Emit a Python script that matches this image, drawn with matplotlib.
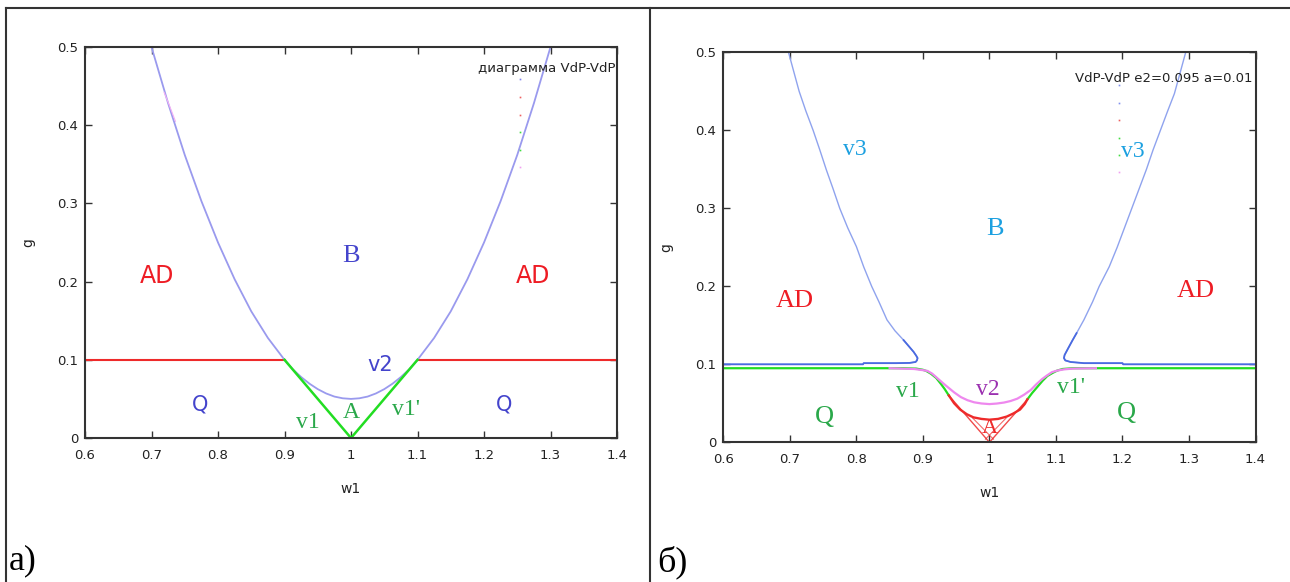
import matplotlib
matplotlib.use('Agg')
import matplotlib.pyplot as plt
from matplotlib.lines import Line2D

# --- data ---
xticks = [0.6, 0.7, 0.8, 0.9, 1.0, 1.1, 1.2, 1.3, 1.4]
xticklabels = ['0.6', '0.7', '0.8', '0.9', '1', '1.1', '1.2', '1.3', '1.4']
yticks = [0, 0.1, 0.2, 0.3, 0.4, 0.5]
yticklabels = ['0', '0.1', '0.2', '0.3', '0.4', '0.5']

# panel a) - B boundary (parabola)
w_B_a = [0.70, 0.725, 0.75, 0.775, 0.80, 0.825, 0.85, 0.875, 0.90, 0.9125, 0.925, 0.9375, 0.95,
         0.9625, 0.975, 0.9875, 1.00, 1.0125, 1.025, 1.0375, 1.05, 1.0625, 1.075, 1.0875, 1.10,
         1.125, 1.15, 1.175, 1.20, 1.225, 1.25, 1.275, 1.30]
g_B_a = [0.50, 0.428, 0.362, 0.303, 0.250, 0.203, 0.162, 0.128, 0.100, 0.0878, 0.078, 0.0695, 0.0625,
         0.057, 0.053, 0.0508, 0.050, 0.0508, 0.053, 0.057, 0.0625, 0.0695, 0.078, 0.0878, 0.100,
         0.128, 0.162, 0.203, 0.250, 0.303, 0.362, 0.428, 0.50]
# panel a) - AD / Q boundary
w_AD_left_a = [0.6, 0.9]
w_AD_right_a = [1.1, 1.4]
g_AD_a = [0.1, 0.1]
# panel a) - v1, v1'
w_v1_a = [0.9, 1.0, 1.1]
g_v1_a = [0.1, 0.0, 0.1]
# faint pink trace near the left branch
w_pink_a = [0.719, 0.727, 0.736]
g_pink_a = [0.442, 0.425, 0.405]

# panel b) - v3 branches (upper part + knee + plateau)
w_v3_left = [0.698, 0.706, 0.714, 0.724, 0.735, 0.745, 0.755, 0.765, 0.775, 0.787, 0.800, 0.811,
             0.823, 0.834, 0.846, 0.858, 0.871, 0.880, 0.886, 0.890, 0.892, 0.891, 0.889, 0.880,
             0.860, 0.811, 0.810, 0.60]
g_v3_left = [0.500, 0.475, 0.450, 0.425, 0.400, 0.375, 0.349, 0.325, 0.300, 0.275, 0.251, 0.225,
             0.200, 0.180, 0.157, 0.143, 0.131, 0.122, 0.116, 0.111, 0.108, 0.105, 0.103, 0.1018,
             0.1015, 0.1015, 0.100, 0.100]
w_v3_right = [1.295, 1.287, 1.278, 1.268, 1.257, 1.246, 1.236, 1.225, 1.214, 1.203, 1.192, 1.180,
              1.165, 1.155, 1.142, 1.131, 1.125, 1.118, 1.113, 1.112, 1.114, 1.122, 1.142, 1.200,
              1.201, 1.40]
g_v3_right = [0.500, 0.475, 0.447, 0.425, 0.400, 0.375, 0.350, 0.325, 0.300, 0.275, 0.250, 0.225,
              0.200, 0.180, 0.157, 0.140, 0.131, 0.120, 0.112, 0.108, 0.105, 0.103, 0.1015, 0.1015,
              0.100, 0.100]
knee_left = 16   # index where the darker part of v3 starts
knee_right = 15

# panel b) - v1 / v1' (green)
w_v1_left = [0.60, 0.87, 0.89, 0.90, 0.905, 0.912, 0.92, 0.927, 0.933, 0.939]
g_v1_left = [0.095, 0.095, 0.0945, 0.093, 0.0915, 0.088, 0.0825, 0.075, 0.068, 0.060]
w_v1_right = [1.057, 1.064, 1.072, 1.080, 1.087, 1.095, 1.102, 1.110, 1.125, 1.40]
g_v1_right = [0.055, 0.063, 0.071, 0.079, 0.085, 0.089, 0.092, 0.094, 0.095, 0.095]

# panel b) - v2 (pink)
w_v2 = [0.85, 0.887, 0.900, 0.907, 0.914, 0.922, 0.930, 0.937, 0.947, 0.957, 0.967, 0.977, 0.988, 1.000,
        1.011, 1.022, 1.032, 1.042, 1.052, 1.062, 1.070, 1.079, 1.087, 1.094, 1.102, 1.112, 1.125, 1.16]
g_v2 = [0.095, 0.094, 0.0925, 0.0915, 0.088, 0.082, 0.076, 0.071, 0.064, 0.058, 0.054, 0.0513, 0.0498, 0.049,
        0.0497, 0.051, 0.053, 0.056, 0.061, 0.067, 0.074, 0.081, 0.086, 0.090, 0.092, 0.0935, 0.0945, 0.095]

# panel b) - A region (red)
w_A_arc = [0.939, 0.947, 0.956, 0.966, 0.976, 0.988, 1.000, 1.013, 1.026, 1.036, 1.046, 1.053, 1.057]
g_A_arc = [0.060, 0.050, 0.042, 0.036, 0.032, 0.030, 0.029, 0.030, 0.033, 0.037, 0.042, 0.049, 0.055]
w_A_v = [0.939, 1.0, 1.057]
g_A_v = [0.060, 0.0, 0.055]
w_A_in1 = [0.975, 1.006]
g_A_in1 = [0.031, 0.004]
w_A_in2 = [1.025, 0.994]
g_A_in2 = [0.031, 0.004]

# gnuplot key dots (tiny)
w_key_a = 1.254
g_key_a = [0.459, 0.436, 0.413, 0.391, 0.368, 0.346]
c_key_a = ['#8080ee', '#ee6060', '#ee6060', '#40dd40', '#40dd40', '#f0a0f0']
w_key_b = 1.195
g_key_b = [0.458, 0.435, 0.413, 0.390, 0.368, 0.346]
c_key_b = ['#8090ee', '#8090ee', '#ee6060', '#40dd40', '#40dd40', '#f0a0f0']

# colours
red = '#ee2a2a'
green = '#22dd22'
lav = '#9a9aee'
txt_red = '#ee1c24'
txt_green = '#2aa84a'
txt_blue = '#4444cc'
txt_sky = '#1ca0e0'
txt_purple = '#9b30b0'
serif = 'Liberation Serif'

fig = plt.figure(figsize=(12.9, 5.82), dpi=100)
axA = fig.add_axes([0.0659, 0.2474, 0.4124, 0.6718])
axB = fig.add_axes([0.5607, 0.2400, 0.4126, 0.6701])

for ax in [axA, axB]:
    ax.set_xlim(0.6, 1.4)
    ax.set_ylim(0, 0.5)
    ax.set_xticks(xticks)
    ax.set_xticklabels(xticklabels)
    ax.set_yticks(yticks)
    ax.set_yticklabels(yticklabels)
    ax.tick_params(direction='in', length=5, width=1, top=True, right=True,
                   labelsize=9.5, colors='#333333', labelcolor='#222222')
    ax.tick_params(axis='x', pad=8)
    ax.tick_params(axis='y', pad=5)
    for s in ax.spines.values():
        s.set_linewidth(1.5)
        s.set_color('#333333')
    ax.set_xlabel('w1', fontsize=10, labelpad=14, color='#222222')
    ax.set_ylabel('g', fontsize=10, labelpad=16, color='#222222')

# panel a)
axA.plot(w_AD_left_a, g_AD_a, color=red, lw=1.5)
axA.plot(w_AD_right_a, g_AD_a, color=red, lw=1.5)
axA.plot(w_B_a, g_B_a, color=lav, lw=1.3)
axA.plot(w_pink_a, g_pink_a, color='#f4b0f4', lw=0.8)
axA.plot(w_v1_a, g_v1_a, color=green, lw=1.8)
for g, c in zip(g_key_a, c_key_a):
    axA.plot(w_key_a, g, 's', color=c, ms=1.2, mew=0)
axA.text(1.397, 0.472, 'диаграмма VdP-VdP', fontsize=9.5, ha='right', va='center', color='#222222')

axA.text(0.708, 0.207, 'AD', fontsize=17, color=txt_red, ha='center', va='center')
axA.text(1.274, 0.207, 'AD', fontsize=17, color=txt_red, ha='center', va='center')
axA.text(1.0, 0.233, 'B', fontsize=19, color=txt_blue, ha='center', va='center', family=serif)
axA.text(1.044, 0.093, 'v2', fontsize=15, color=txt_blue, ha='center', va='center')
axA.text(0.773, 0.043, 'Q', fontsize=15, color=txt_blue, ha='center', va='center')
axA.text(1.230, 0.043, 'Q', fontsize=15, color=txt_blue, ha='center', va='center')
axA.text(0.935, 0.020, 'v1', fontsize=17, color=txt_green, ha='center', va='center', family=serif)
axA.text(1.000, 0.032, 'A', fontsize=17, color=txt_green, ha='center', va='center', family=serif)
axA.text(1.082, 0.036, "v1'", fontsize=17, color=txt_green, ha='center', va='center', family=serif)

# panel b)
axB.plot(w_v3_left, g_v3_left, color='#8fa3ee', lw=1.0)
axB.plot(w_v3_right, g_v3_right, color='#8fa3ee', lw=1.0)
axB.plot(w_v3_left[knee_left:], g_v3_left[knee_left:], color='#4a6ae0', lw=1.3)
axB.plot(w_v3_right[knee_right:], g_v3_right[knee_right:], color='#4a6ae0', lw=1.3)
axB.plot(w_v1_left, g_v1_left, color=green, lw=1.6)
axB.plot(w_v1_right, g_v1_right, color=green, lw=1.6)
axB.plot(w_v2, g_v2, color='#ee88ee', lw=1.6)
axB.plot(w_A_v, g_A_v, color=red, lw=1.0, alpha=0.85)
axB.plot(w_A_in1, g_A_in1, color=red, lw=0.8, alpha=0.7)
axB.plot(w_A_in2, g_A_in2, color=red, lw=0.8, alpha=0.7)
axB.plot(w_A_arc, g_A_arc, color=red, lw=1.7)
for g, c in zip(g_key_b, c_key_b):
    axB.plot(w_key_b, g, 's', color=c, ms=1.2, mew=0)
axB.text(1.396, 0.467, 'VdP-VdP e2=0.095 a=0.01', fontsize=9.5, ha='right', va='center', color='#222222')

axB.text(0.797, 0.375, 'v3', fontsize=17, color=txt_sky, ha='center', va='center', family=serif)
axB.text(1.215, 0.373, 'v3', fontsize=17, color=txt_sky, ha='center', va='center', family=serif)
axB.text(1.008, 0.274, 'B', fontsize=19, color=txt_sky, ha='center', va='center', family=serif)
axB.text(0.707, 0.181, 'AD', fontsize=19, color=txt_red, ha='center', va='center', family=serif)
axB.text(1.310, 0.194, 'AD', fontsize=19, color=txt_red, ha='center', va='center', family=serif)
axB.text(0.878, 0.065, 'v1', fontsize=17, color=txt_green, ha='center', va='center', family=serif)
axB.text(0.997, 0.068, 'v2', fontsize=17, color=txt_purple, ha='center', va='center', family=serif)
axB.text(1.123, 0.070, "v1'", fontsize=17, color=txt_green, ha='center', va='center', family=serif)
axB.text(0.752, 0.032, 'Q', fontsize=19, color=txt_green, ha='center', va='center', family=serif)
axB.text(1.206, 0.037, 'Q', fontsize=19, color=txt_green, ha='center', va='center', family=serif)
axB.text(1.000, 0.018, 'A', fontsize=16, color=red, ha='center', va='center', family=serif)

# table frame around the two panels
frame = dict(color='#333333', lw=1.5, transform=fig.transFigure)
fig.add_artist(Line2D([0.0047, 1.0], [0.9863, 0.9863], **frame))
fig.add_artist(Line2D([0.0047, 0.0047], [0.0, 0.9863], **frame))
fig.add_artist(Line2D([0.5039, 0.5039], [0.0, 0.9863], **frame))

fig.text(9 / 1290, 1 - 561 / 582, 'a)', fontsize=26, family=serif, ha='left', va='center')
fig.text(657 / 1290, 1 - 562 / 582, 'б)', fontsize=26, family=serif, ha='left', va='center')

fig.savefig('out.png', dpi=100)
